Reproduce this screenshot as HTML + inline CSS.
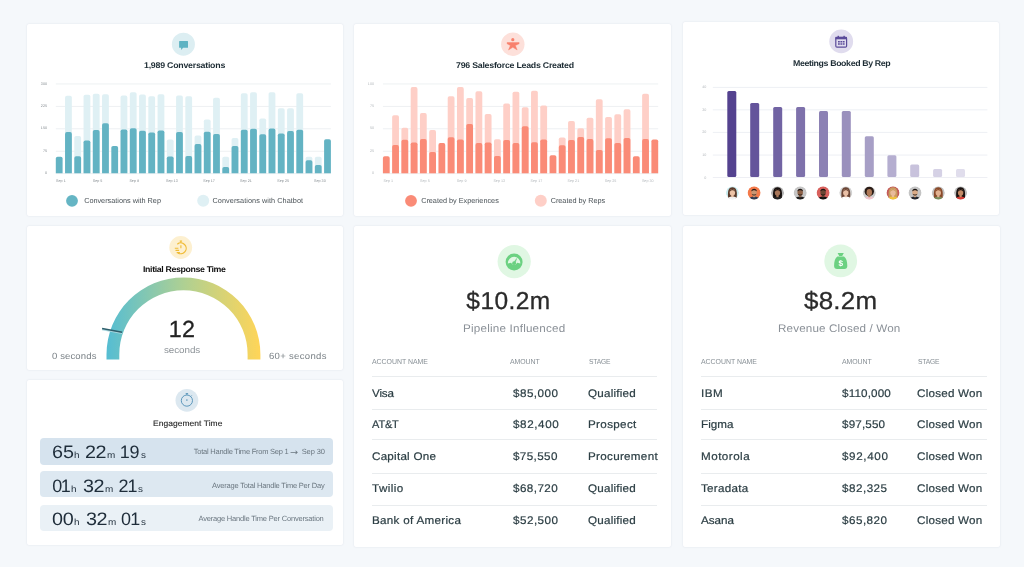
<!DOCTYPE html>
<html lang="en"><head><meta charset="utf-8"><title>Dashboard</title>
<style>
html,body{margin:0;padding:0}
body{width:1024px;height:567px;overflow:hidden;background:#f5f8fb;position:relative;font-family:"Liberation Sans",sans-serif}
.card{position:absolute;background:#fff;border-radius:2px;box-shadow:0 0 2px rgba(40,60,90,0.13)}
.t{position:absolute;white-space:nowrap;line-height:1;transform-origin:0 0;text-rendering:geometricPrecision}
.ov{position:absolute;left:0;top:0;font-family:"Liberation Sans",sans-serif}
.row{position:absolute;border-radius:4px}
.ln{position:absolute;height:1px;background:#e9ecee}
.wrap{position:absolute;left:0;top:0;width:1024px;height:567px;filter:blur(0.4px)}
</style></head><body><div class="wrap">
<div class="card" style="left:26.5px;top:23.6px;width:316.8px;height:192.4px"></div>
<div class="card" style="left:354.4px;top:23.6px;width:316.4px;height:192.4px"></div>
<div class="card" style="left:682.8px;top:21.8px;width:316.6px;height:193.4px"></div>
<div class="card" style="left:26.6px;top:225.7px;width:316.6px;height:144.3px"></div>
<div class="card" style="left:26.6px;top:380.0px;width:316.8px;height:165.0px"></div>
<div class="card" style="left:354.4px;top:225.8px;width:316.4px;height:320.8px"></div>
<div class="card" style="left:683.2px;top:225.8px;width:316.5px;height:320.8px"></div>
<svg class="ov" width="1024" height="567" viewBox="0 0 1024 567" text-rendering="geometricPrecision"><rect x="55.80" y="173.20" width="275.10" height="0.9" fill="#eceff1"/>
<text x="47.00" y="174.30" font-size="3.7" fill="#858c91" text-anchor="end">0</text>
<rect x="55.80" y="150.78" width="275.10" height="0.9" fill="#eceff1"/>
<text x="47.00" y="151.88" font-size="3.7" fill="#858c91" text-anchor="end">75</text>
<rect x="55.80" y="128.35" width="275.10" height="0.9" fill="#eceff1"/>
<text x="47.00" y="129.45" font-size="3.7" fill="#858c91" text-anchor="end">150</text>
<rect x="55.80" y="105.93" width="275.10" height="0.9" fill="#eceff1"/>
<text x="47.00" y="107.03" font-size="3.7" fill="#858c91" text-anchor="end">225</text>
<rect x="55.80" y="83.50" width="275.10" height="0.9" fill="#eceff1"/>
<text x="47.00" y="84.60" font-size="3.7" fill="#858c91" text-anchor="end">300</text>
<path d="M55.80 173.30 V158.50 Q55.80 156.70 57.60 156.70 H60.80 Q62.60 156.70 62.60 158.50 V173.30 Z" fill="#63b3c3"/>
<path d="M65.05 173.30 V97.60 Q65.05 95.80 66.85 95.80 H70.05 Q71.85 95.80 71.85 97.60 V173.30 Z" fill="#dff0f4"/>
<path d="M65.05 173.30 V133.90 Q65.05 132.10 66.85 132.10 H70.05 Q71.85 132.10 71.85 133.90 V173.30 Z" fill="#63b3c3"/>
<path d="M74.30 173.30 V137.70 Q74.30 135.90 76.10 135.90 H79.30 Q81.10 135.90 81.10 137.70 V173.30 Z" fill="#dff0f4"/>
<path d="M74.30 173.30 V158.10 Q74.30 156.30 76.10 156.30 H79.30 Q81.10 156.30 81.10 158.10 V173.30 Z" fill="#63b3c3"/>
<path d="M83.56 173.30 V96.60 Q83.56 94.80 85.36 94.80 H88.56 Q90.36 94.80 90.36 96.60 V173.30 Z" fill="#dff0f4"/>
<path d="M83.56 173.30 V142.20 Q83.56 140.40 85.36 140.40 H88.56 Q90.36 140.40 90.36 142.20 V173.30 Z" fill="#63b3c3"/>
<path d="M92.81 173.30 V95.50 Q92.81 93.70 94.61 93.70 H97.81 Q99.61 93.70 99.61 95.50 V173.30 Z" fill="#dff0f4"/>
<path d="M92.81 173.30 V131.70 Q92.81 129.90 94.61 129.90 H97.81 Q99.61 129.90 99.61 131.70 V173.30 Z" fill="#63b3c3"/>
<path d="M102.06 173.30 V96.10 Q102.06 94.30 103.86 94.30 H107.06 Q108.86 94.30 108.86 96.10 V173.30 Z" fill="#dff0f4"/>
<path d="M102.06 173.30 V125.10 Q102.06 123.30 103.86 123.30 H107.06 Q108.86 123.30 108.86 125.10 V173.30 Z" fill="#63b3c3"/>
<path d="M111.31 173.30 V147.80 Q111.31 146.00 113.11 146.00 H116.31 Q118.11 146.00 118.11 147.80 V173.30 Z" fill="#63b3c3"/>
<path d="M120.56 173.30 V97.40 Q120.56 95.60 122.36 95.60 H125.56 Q127.36 95.60 127.36 97.40 V173.30 Z" fill="#dff0f4"/>
<path d="M120.56 173.30 V131.30 Q120.56 129.50 122.36 129.50 H125.56 Q127.36 129.50 127.36 131.30 V173.30 Z" fill="#63b3c3"/>
<path d="M129.81 173.30 V94.10 Q129.81 92.30 131.61 92.30 H134.81 Q136.61 92.30 136.61 94.10 V173.30 Z" fill="#dff0f4"/>
<path d="M129.81 173.30 V130.00 Q129.81 128.20 131.61 128.20 H134.81 Q136.61 128.20 136.61 130.00 V173.30 Z" fill="#63b3c3"/>
<path d="M139.07 173.30 V96.40 Q139.07 94.60 140.87 94.60 H144.07 Q145.87 94.60 145.87 96.40 V173.30 Z" fill="#dff0f4"/>
<path d="M139.07 173.30 V132.50 Q139.07 130.70 140.87 130.70 H144.07 Q145.87 130.70 145.87 132.50 V173.30 Z" fill="#63b3c3"/>
<path d="M148.32 173.30 V98.00 Q148.32 96.20 150.12 96.20 H153.32 Q155.12 96.20 155.12 98.00 V173.30 Z" fill="#dff0f4"/>
<path d="M148.32 173.30 V134.30 Q148.32 132.50 150.12 132.50 H153.32 Q155.12 132.50 155.12 134.30 V173.30 Z" fill="#63b3c3"/>
<path d="M157.57 173.30 V96.10 Q157.57 94.30 159.37 94.30 H162.57 Q164.37 94.30 164.37 96.10 V173.30 Z" fill="#dff0f4"/>
<path d="M157.57 173.30 V132.30 Q157.57 130.50 159.37 130.50 H162.57 Q164.37 130.50 164.37 132.30 V173.30 Z" fill="#63b3c3"/>
<path d="M166.82 173.30 V141.20 Q166.82 139.40 168.62 139.40 H171.82 Q173.62 139.40 173.62 141.20 V173.30 Z" fill="#dff0f4"/>
<path d="M166.82 173.30 V158.30 Q166.82 156.50 168.62 156.50 H171.82 Q173.62 156.50 173.62 158.30 V173.30 Z" fill="#63b3c3"/>
<path d="M176.07 173.30 V97.40 Q176.07 95.60 177.87 95.60 H181.07 Q182.87 95.60 182.87 97.40 V173.30 Z" fill="#dff0f4"/>
<path d="M176.07 173.30 V133.70 Q176.07 131.90 177.87 131.90 H181.07 Q182.87 131.90 182.87 133.70 V173.30 Z" fill="#63b3c3"/>
<path d="M185.32 173.30 V98.00 Q185.32 96.20 187.12 96.20 H190.32 Q192.12 96.20 192.12 98.00 V173.30 Z" fill="#dff0f4"/>
<path d="M185.32 173.30 V157.90 Q185.32 156.10 187.12 156.10 H190.32 Q192.12 156.10 192.12 157.90 V173.30 Z" fill="#63b3c3"/>
<path d="M194.58 173.30 V137.40 Q194.58 135.60 196.38 135.60 H199.58 Q201.38 135.60 201.38 137.40 V173.30 Z" fill="#dff0f4"/>
<path d="M194.58 173.30 V145.90 Q194.58 144.10 196.38 144.10 H199.58 Q201.38 144.10 201.38 145.90 V173.30 Z" fill="#63b3c3"/>
<path d="M203.83 173.30 V121.30 Q203.83 119.50 205.63 119.50 H208.83 Q210.63 119.50 210.63 121.30 V173.30 Z" fill="#dff0f4"/>
<path d="M203.83 173.30 V133.50 Q203.83 131.70 205.63 131.70 H208.83 Q210.63 131.70 210.63 133.50 V173.30 Z" fill="#63b3c3"/>
<path d="M213.08 173.30 V99.60 Q213.08 97.80 214.88 97.80 H218.08 Q219.88 97.80 219.88 99.60 V173.30 Z" fill="#dff0f4"/>
<path d="M213.08 173.30 V135.80 Q213.08 134.00 214.88 134.00 H218.08 Q219.88 134.00 219.88 135.80 V173.30 Z" fill="#63b3c3"/>
<path d="M222.33 173.30 V158.50 Q222.33 156.70 224.13 156.70 H227.33 Q229.13 156.70 229.13 158.50 V173.30 Z" fill="#dff0f4"/>
<path d="M222.33 173.30 V168.80 Q222.33 167.00 224.13 167.00 H227.33 Q229.13 167.00 229.13 168.80 V173.30 Z" fill="#63b3c3"/>
<path d="M231.58 173.30 V139.70 Q231.58 137.90 233.38 137.90 H236.58 Q238.38 137.90 238.38 139.70 V173.30 Z" fill="#dff0f4"/>
<path d="M231.58 173.30 V147.80 Q231.58 146.00 233.38 146.00 H236.58 Q238.38 146.00 238.38 147.80 V173.30 Z" fill="#63b3c3"/>
<path d="M240.83 173.30 V95.10 Q240.83 93.30 242.63 93.30 H245.83 Q247.63 93.30 247.63 95.10 V173.30 Z" fill="#dff0f4"/>
<path d="M240.83 173.30 V131.60 Q240.83 129.80 242.63 129.80 H245.83 Q247.63 129.80 247.63 131.60 V173.30 Z" fill="#63b3c3"/>
<path d="M250.09 173.30 V94.10 Q250.09 92.30 251.89 92.30 H255.09 Q256.89 92.30 256.89 94.10 V173.30 Z" fill="#dff0f4"/>
<path d="M250.09 173.30 V130.60 Q250.09 128.80 251.89 128.80 H255.09 Q256.89 128.80 256.89 130.60 V173.30 Z" fill="#63b3c3"/>
<path d="M259.34 173.30 V120.30 Q259.34 118.50 261.14 118.50 H264.34 Q266.14 118.50 266.14 120.30 V173.30 Z" fill="#dff0f4"/>
<path d="M259.34 173.30 V136.00 Q259.34 134.20 261.14 134.20 H264.34 Q266.14 134.20 266.14 136.00 V173.30 Z" fill="#63b3c3"/>
<path d="M268.59 173.30 V94.10 Q268.59 92.30 270.39 92.30 H273.59 Q275.39 92.30 275.39 94.10 V173.30 Z" fill="#dff0f4"/>
<path d="M268.59 173.30 V130.40 Q268.59 128.60 270.39 128.60 H273.59 Q275.39 128.60 275.39 130.40 V173.30 Z" fill="#63b3c3"/>
<path d="M277.84 173.30 V110.00 Q277.84 108.20 279.64 108.20 H282.84 Q284.64 108.20 284.64 110.00 V173.30 Z" fill="#dff0f4"/>
<path d="M277.84 173.30 V135.20 Q277.84 133.40 279.64 133.40 H282.84 Q284.64 133.40 284.64 135.20 V173.30 Z" fill="#63b3c3"/>
<path d="M287.09 173.30 V110.00 Q287.09 108.20 288.89 108.20 H292.09 Q293.89 108.20 293.89 110.00 V173.30 Z" fill="#dff0f4"/>
<path d="M287.09 173.30 V132.90 Q287.09 131.10 288.89 131.10 H292.09 Q293.89 131.10 293.89 132.90 V173.30 Z" fill="#63b3c3"/>
<path d="M296.34 173.30 V95.10 Q296.34 93.30 298.14 93.30 H301.34 Q303.14 93.30 303.14 95.10 V173.30 Z" fill="#dff0f4"/>
<path d="M296.34 173.30 V131.60 Q296.34 129.80 298.14 129.80 H301.34 Q303.14 129.80 303.14 131.60 V173.30 Z" fill="#63b3c3"/>
<path d="M305.60 173.30 V158.50 Q305.60 156.70 307.40 156.70 H310.60 Q312.40 156.70 312.40 158.50 V173.30 Z" fill="#dff0f4"/>
<path d="M305.60 173.30 V162.00 Q305.60 160.20 307.40 160.20 H310.60 Q312.40 160.20 312.40 162.00 V173.30 Z" fill="#63b3c3"/>
<path d="M314.85 173.30 V158.50 Q314.85 156.70 316.65 156.70 H319.85 Q321.65 156.70 321.65 158.50 V173.30 Z" fill="#dff0f4"/>
<path d="M314.85 173.30 V166.80 Q314.85 165.00 316.65 165.00 H319.85 Q321.65 165.00 321.65 166.80 V173.30 Z" fill="#63b3c3"/>
<path d="M324.10 173.30 V141.10 Q324.10 139.30 325.90 139.30 H329.10 Q330.90 139.30 330.90 141.10 V173.30 Z" fill="#63b3c3"/>
<text x="56.10" y="181.90" font-size="3.7" fill="#858c91" text-anchor="start">Sep 1</text>
<text x="92.70" y="181.90" font-size="3.7" fill="#858c91" text-anchor="start">Sep 5</text>
<text x="129.40" y="181.90" font-size="3.7" fill="#858c91" text-anchor="start">Sep 9</text>
<text x="166.00" y="181.90" font-size="3.7" fill="#858c91" text-anchor="start">Sep 13</text>
<text x="203.20" y="181.90" font-size="3.7" fill="#858c91" text-anchor="start">Sep 17</text>
<text x="240.10" y="181.90" font-size="3.7" fill="#858c91" text-anchor="start">Sep 21</text>
<text x="277.30" y="181.90" font-size="3.7" fill="#858c91" text-anchor="start">Sep 25</text>
<text x="314.00" y="181.90" font-size="3.7" fill="#858c91" text-anchor="start">Sep 30</text>
<rect x="382.90" y="173.20" width="275.30" height="0.9" fill="#eceff1"/>
<text x="374.00" y="174.30" font-size="3.7" fill="#b3b8bc" text-anchor="end">0</text>
<rect x="382.90" y="150.78" width="275.30" height="0.9" fill="#eceff1"/>
<text x="374.00" y="151.88" font-size="3.7" fill="#b3b8bc" text-anchor="end">25</text>
<rect x="382.90" y="128.35" width="275.30" height="0.9" fill="#eceff1"/>
<text x="374.00" y="129.45" font-size="3.7" fill="#b3b8bc" text-anchor="end">50</text>
<rect x="382.90" y="105.93" width="275.30" height="0.9" fill="#eceff1"/>
<text x="374.00" y="107.03" font-size="3.7" fill="#b3b8bc" text-anchor="end">75</text>
<rect x="382.90" y="83.50" width="275.30" height="0.9" fill="#eceff1"/>
<text x="374.00" y="84.60" font-size="3.7" fill="#b3b8bc" text-anchor="end">100</text>
<path d="M382.90 173.30 V158.10 Q382.90 156.30 384.70 156.30 H387.90 Q389.70 156.30 389.70 158.10 V173.30 Z" fill="#fa8b77"/>
<path d="M392.16 173.30 V117.00 Q392.16 115.20 393.96 115.20 H397.16 Q398.96 115.20 398.96 117.00 V173.30 Z" fill="#fecfc7"/>
<path d="M392.16 173.30 V146.90 Q392.16 145.10 393.96 145.10 H397.16 Q398.96 145.10 398.96 146.90 V173.30 Z" fill="#fa8b77"/>
<path d="M401.42 173.30 V129.60 Q401.42 127.80 403.22 127.80 H406.42 Q408.22 127.80 408.22 129.60 V173.30 Z" fill="#fecfc7"/>
<path d="M401.42 173.30 V141.60 Q401.42 139.80 403.22 139.80 H406.42 Q408.22 139.80 408.22 141.60 V173.30 Z" fill="#fa8b77"/>
<path d="M410.68 173.30 V88.90 Q410.68 87.10 412.48 87.10 H415.68 Q417.48 87.10 417.48 88.90 V173.30 Z" fill="#fecfc7"/>
<path d="M410.68 173.30 V144.20 Q410.68 142.40 412.48 142.40 H415.68 Q417.48 142.40 417.48 144.20 V173.30 Z" fill="#fa8b77"/>
<path d="M419.93 173.30 V114.90 Q419.93 113.10 421.73 113.10 H424.93 Q426.73 113.10 426.73 114.90 V173.30 Z" fill="#fecfc7"/>
<path d="M419.93 173.30 V140.90 Q419.93 139.10 421.73 139.10 H424.93 Q426.73 139.10 426.73 140.90 V173.30 Z" fill="#fa8b77"/>
<path d="M429.19 173.30 V131.90 Q429.19 130.10 430.99 130.10 H434.19 Q435.99 130.10 435.99 131.90 V173.30 Z" fill="#fecfc7"/>
<path d="M429.19 173.30 V153.80 Q429.19 152.00 430.99 152.00 H434.19 Q435.99 152.00 435.99 153.80 V173.30 Z" fill="#fa8b77"/>
<path d="M438.45 173.30 V144.90 Q438.45 143.10 440.25 143.10 H443.45 Q445.25 143.10 445.25 144.90 V173.30 Z" fill="#fa8b77"/>
<path d="M447.71 173.30 V98.00 Q447.71 96.20 449.51 96.20 H452.71 Q454.51 96.20 454.51 98.00 V173.30 Z" fill="#fecfc7"/>
<path d="M447.71 173.30 V139.10 Q447.71 137.30 449.51 137.30 H452.71 Q454.51 137.30 454.51 139.10 V173.30 Z" fill="#fa8b77"/>
<path d="M456.97 173.30 V88.90 Q456.97 87.10 458.77 87.10 H461.97 Q463.77 87.10 463.77 88.90 V173.30 Z" fill="#fecfc7"/>
<path d="M456.97 173.30 V141.20 Q456.97 139.40 458.77 139.40 H461.97 Q463.77 139.40 463.77 141.20 V173.30 Z" fill="#fa8b77"/>
<path d="M466.23 173.30 V99.90 Q466.23 98.10 468.03 98.10 H471.23 Q473.03 98.10 473.03 99.90 V173.30 Z" fill="#fecfc7"/>
<path d="M466.23 173.30 V125.70 Q466.23 123.90 468.03 123.90 H471.23 Q473.03 123.90 473.03 125.70 V173.30 Z" fill="#fa8b77"/>
<path d="M475.49 173.30 V93.10 Q475.49 91.30 477.29 91.30 H480.49 Q482.29 91.30 482.29 93.10 V173.30 Z" fill="#fecfc7"/>
<path d="M475.49 173.30 V144.90 Q475.49 143.10 477.29 143.10 H480.49 Q482.29 143.10 482.29 144.90 V173.30 Z" fill="#fa8b77"/>
<path d="M484.74 173.30 V115.80 Q484.74 114.00 486.54 114.00 H489.74 Q491.54 114.00 491.54 115.80 V173.30 Z" fill="#fecfc7"/>
<path d="M484.74 173.30 V144.30 Q484.74 142.50 486.54 142.50 H489.74 Q491.54 142.50 491.54 144.30 V173.30 Z" fill="#fa8b77"/>
<path d="M494.00 173.30 V141.00 Q494.00 139.20 495.80 139.20 H499.00 Q500.80 139.20 500.80 141.00 V173.30 Z" fill="#fecfc7"/>
<path d="M494.00 173.30 V157.70 Q494.00 155.90 495.80 155.90 H499.00 Q500.80 155.90 500.80 157.70 V173.30 Z" fill="#fa8b77"/>
<path d="M503.26 173.30 V105.40 Q503.26 103.60 505.06 103.60 H508.26 Q510.06 103.60 510.06 105.40 V173.30 Z" fill="#fecfc7"/>
<path d="M503.26 173.30 V141.80 Q503.26 140.00 505.06 140.00 H508.26 Q510.06 140.00 510.06 141.80 V173.30 Z" fill="#fa8b77"/>
<path d="M512.52 173.30 V93.50 Q512.52 91.70 514.32 91.70 H517.52 Q519.32 91.70 519.32 93.50 V173.30 Z" fill="#fecfc7"/>
<path d="M512.52 173.30 V144.70 Q512.52 142.90 514.32 142.90 H517.52 Q519.32 142.90 519.32 144.70 V173.30 Z" fill="#fa8b77"/>
<path d="M521.78 173.30 V109.00 Q521.78 107.20 523.58 107.20 H526.78 Q528.58 107.20 528.58 109.00 V173.30 Z" fill="#fecfc7"/>
<path d="M521.78 173.30 V128.10 Q521.78 126.30 523.58 126.30 H526.78 Q528.58 126.30 528.58 128.10 V173.30 Z" fill="#fa8b77"/>
<path d="M531.04 173.30 V92.60 Q531.04 90.80 532.84 90.80 H536.04 Q537.84 90.80 537.84 92.60 V173.30 Z" fill="#fecfc7"/>
<path d="M531.04 173.30 V144.00 Q531.04 142.20 532.84 142.20 H536.04 Q537.84 142.20 537.84 144.00 V173.30 Z" fill="#fa8b77"/>
<path d="M540.30 173.30 V107.30 Q540.30 105.50 542.10 105.50 H545.30 Q547.10 105.50 547.10 107.30 V173.30 Z" fill="#fecfc7"/>
<path d="M540.30 173.30 V141.20 Q540.30 139.40 542.10 139.40 H545.30 Q547.10 139.40 547.10 141.20 V173.30 Z" fill="#fa8b77"/>
<path d="M549.56 173.30 V157.10 Q549.56 155.30 551.36 155.30 H554.56 Q556.36 155.30 556.36 157.10 V173.30 Z" fill="#fa8b77"/>
<path d="M558.81 173.30 V139.30 Q558.81 137.50 560.61 137.50 H563.81 Q565.61 137.50 565.61 139.30 V173.30 Z" fill="#fecfc7"/>
<path d="M558.81 173.30 V147.10 Q558.81 145.30 560.61 145.30 H563.81 Q565.61 145.30 565.61 147.10 V173.30 Z" fill="#fa8b77"/>
<path d="M568.07 173.30 V122.80 Q568.07 121.00 569.87 121.00 H573.07 Q574.87 121.00 574.87 122.80 V173.30 Z" fill="#fecfc7"/>
<path d="M568.07 173.30 V141.80 Q568.07 140.00 569.87 140.00 H573.07 Q574.87 140.00 574.87 141.80 V173.30 Z" fill="#fa8b77"/>
<path d="M577.33 173.30 V130.00 Q577.33 128.20 579.13 128.20 H582.33 Q584.13 128.20 584.13 130.00 V173.30 Z" fill="#fecfc7"/>
<path d="M577.33 173.30 V138.70 Q577.33 136.90 579.13 136.90 H582.33 Q584.13 136.90 584.13 138.70 V173.30 Z" fill="#fa8b77"/>
<path d="M586.59 173.30 V119.50 Q586.59 117.70 588.39 117.70 H591.59 Q593.39 117.70 593.39 119.50 V173.30 Z" fill="#fecfc7"/>
<path d="M586.59 173.30 V140.90 Q586.59 139.10 588.39 139.10 H591.59 Q593.39 139.10 593.39 140.90 V173.30 Z" fill="#fa8b77"/>
<path d="M595.85 173.30 V101.10 Q595.85 99.30 597.65 99.30 H600.85 Q602.65 99.30 602.65 101.10 V173.30 Z" fill="#fecfc7"/>
<path d="M595.85 173.30 V151.70 Q595.85 149.90 597.65 149.90 H600.85 Q602.65 149.90 602.65 151.70 V173.30 Z" fill="#fa8b77"/>
<path d="M605.11 173.30 V118.70 Q605.11 116.90 606.91 116.90 H610.11 Q611.91 116.90 611.91 118.70 V173.30 Z" fill="#fecfc7"/>
<path d="M605.11 173.30 V140.10 Q605.11 138.30 606.91 138.30 H610.11 Q611.91 138.30 611.91 140.10 V173.30 Z" fill="#fa8b77"/>
<path d="M614.37 173.30 V116.00 Q614.37 114.20 616.17 114.20 H619.37 Q621.17 114.20 621.17 116.00 V173.30 Z" fill="#fecfc7"/>
<path d="M614.37 173.30 V144.70 Q614.37 142.90 616.17 142.90 H619.37 Q621.17 142.90 621.17 144.70 V173.30 Z" fill="#fa8b77"/>
<path d="M623.62 173.30 V111.00 Q623.62 109.20 625.42 109.20 H628.62 Q630.42 109.20 630.42 111.00 V173.30 Z" fill="#fecfc7"/>
<path d="M623.62 173.30 V139.70 Q623.62 137.90 625.42 137.90 H628.62 Q630.42 137.90 630.42 139.70 V173.30 Z" fill="#fa8b77"/>
<path d="M632.88 173.30 V158.10 Q632.88 156.30 634.68 156.30 H637.88 Q639.68 156.30 639.68 158.10 V173.30 Z" fill="#fa8b77"/>
<path d="M642.14 173.30 V95.50 Q642.14 93.70 643.94 93.70 H647.14 Q648.94 93.70 648.94 95.50 V173.30 Z" fill="#fecfc7"/>
<path d="M642.14 173.30 V140.90 Q642.14 139.10 643.94 139.10 H647.14 Q648.94 139.10 648.94 140.90 V173.30 Z" fill="#fa8b77"/>
<path d="M651.40 173.30 V141.20 Q651.40 139.40 653.20 139.40 H656.40 Q658.20 139.40 658.20 141.20 V173.30 Z" fill="#fa8b77"/>
<text x="383.40" y="181.90" font-size="3.7" fill="#b3b8bc" text-anchor="start">Sep 1</text>
<text x="420.10" y="181.90" font-size="3.7" fill="#b3b8bc" text-anchor="start">Sep 5</text>
<text x="456.80" y="181.90" font-size="3.7" fill="#b3b8bc" text-anchor="start">Sep 9</text>
<text x="493.40" y="181.90" font-size="3.7" fill="#b3b8bc" text-anchor="start">Sep 13</text>
<text x="530.60" y="181.90" font-size="3.7" fill="#b3b8bc" text-anchor="start">Sep 17</text>
<text x="567.50" y="181.90" font-size="3.7" fill="#b3b8bc" text-anchor="start">Sep 21</text>
<text x="604.70" y="181.90" font-size="3.7" fill="#b3b8bc" text-anchor="start">Sep 25</text>
<text x="641.90" y="181.90" font-size="3.7" fill="#b3b8bc" text-anchor="start">Sep 30</text>
<rect x="712.8" y="177.00" width="274.6" height="0.9" fill="#eceef3"/>
<text x="706.30" y="178.50" font-size="3.7" fill="#b3b8bc" text-anchor="end">0</text>
<rect x="712.8" y="154.60" width="274.6" height="0.9" fill="#eceef3"/>
<text x="706.30" y="156.10" font-size="3.7" fill="#b3b8bc" text-anchor="end">10</text>
<rect x="712.8" y="131.90" width="274.6" height="0.9" fill="#eceef3"/>
<text x="706.30" y="133.40" font-size="3.7" fill="#b3b8bc" text-anchor="end">20</text>
<rect x="712.8" y="109.40" width="274.6" height="0.9" fill="#eceef3"/>
<text x="706.30" y="110.90" font-size="3.7" fill="#b3b8bc" text-anchor="end">30</text>
<rect x="712.8" y="86.90" width="274.6" height="0.9" fill="#eceef3"/>
<text x="706.30" y="88.40" font-size="3.7" fill="#b3b8bc" text-anchor="end">40</text>
<rect x="727.30" y="91.00" width="9.0" height="86.00" rx="1.5" fill="#54428f"/>
<rect x="750.20" y="102.90" width="9.0" height="74.10" rx="1.5" fill="#64549b"/>
<rect x="773.20" y="107.00" width="9.0" height="70.00" rx="1.5" fill="#7163a3"/>
<rect x="796.10" y="107.00" width="9.0" height="70.00" rx="1.5" fill="#7e71ab"/>
<rect x="819.00" y="110.90" width="9.0" height="66.10" rx="1.5" fill="#8c81b4"/>
<rect x="841.80" y="110.90" width="9.0" height="66.10" rx="1.5" fill="#9a90bd"/>
<rect x="864.80" y="136.20" width="9.0" height="40.80" rx="1.5" fill="#a79fc6"/>
<rect x="887.40" y="155.20" width="9.0" height="21.80" rx="1.5" fill="#b5aed0"/>
<rect x="910.20" y="164.40" width="9.0" height="12.60" rx="1.5" fill="#c8c2dc"/>
<rect x="933.10" y="168.90" width="9.0" height="8.10" rx="1.5" fill="#d5d1e5"/>
<rect x="956.00" y="168.90" width="9.0" height="8.10" rx="1.5" fill="#e0ddec"/>
<defs><clipPath id="avc"><circle cx="0" cy="0" r="6.6"/></clipPath></defs>
<g transform="translate(732.40,192.8)" clip-path="url(#avc)"><circle r="6.6" fill="#c9ecf0"/><path d="M-4.2 5.5 C-5.0 -1 -4.2 -5.6 0 -5.6 C4.2 -5.6 5.0 -1 4.2 5.5 Z" fill="#5a3a2a"/><ellipse cx="0" cy="7.0" rx="5.6" ry="3.2" fill="#f3f3f3"/><rect x="-1.1" y="1.6" width="2.2" height="2.8" fill="#ecc3a6"/><ellipse cx="0" cy="-0.4" rx="2.7" ry="3.3" fill="#ecc3a6"/><path d="M-2.8 -0.8 C-2.8 -4.8 2.8 -4.8 2.8 -0.8 C1.4 -3.0 -1.0 -3.4 -2.8 -0.8 Z" fill="#5a3a2a"/></g>
<g transform="translate(754.10,192.8)" clip-path="url(#avc)"><circle r="6.6" fill="#f47a4a"/><ellipse cx="0" cy="7.0" rx="5.6" ry="3.2" fill="#2d3d55"/><rect x="-1.1" y="1.6" width="2.2" height="2.8" fill="#c99673"/><ellipse cx="0" cy="-0.4" rx="2.7" ry="3.3" fill="#c99673"/><path d="M-2.8 -1.0 C-3.0 -5.0 3.0 -5.0 2.8 -1.0 C2.0 -3.0 -2.0 -3.0 -2.8 -1.0 Z" fill="#2a1a14"/><path d="M-2.4 0.9 C-1.8 3.4 1.8 3.4 2.4 0.9 C1.2 2.0 -1.2 2.0 -2.4 0.9 Z" fill="#2a1a14" opacity="0.75"/></g>
<g transform="translate(777.50,192.8)" clip-path="url(#avc)"><circle r="6.6" fill="#b4b4b4"/><path d="M-4.2 5.5 C-5.0 -1 -4.2 -5.6 0 -5.6 C4.2 -5.6 5.0 -1 4.2 5.5 Z" fill="#17110f"/><ellipse cx="0" cy="7.0" rx="5.6" ry="3.2" fill="#222222"/><rect x="-1.1" y="1.6" width="2.2" height="2.8" fill="#a87659"/><ellipse cx="0" cy="-0.4" rx="2.7" ry="3.3" fill="#a87659"/><path d="M-2.8 -0.8 C-2.8 -4.8 2.8 -4.8 2.8 -0.8 C1.4 -3.0 -1.0 -3.4 -2.8 -0.8 Z" fill="#17110f"/></g>
<g transform="translate(800.20,192.8)" clip-path="url(#avc)"><circle r="6.6" fill="#c6c6c6"/><ellipse cx="0" cy="7.0" rx="5.6" ry="3.2" fill="#1d1d1d"/><rect x="-1.1" y="1.6" width="2.2" height="2.8" fill="#8e6248"/><ellipse cx="0" cy="-0.4" rx="2.7" ry="3.3" fill="#8e6248"/><path d="M-2.8 -1.0 C-3.0 -5.0 3.0 -5.0 2.8 -1.0 C2.0 -3.0 -2.0 -3.0 -2.8 -1.0 Z" fill="#1b1513"/><path d="M-2.4 0.9 C-1.8 3.4 1.8 3.4 2.4 0.9 C1.2 2.0 -1.2 2.0 -2.4 0.9 Z" fill="#1b1513" opacity="0.75"/></g>
<g transform="translate(823.10,192.8)" clip-path="url(#avc)"><circle r="6.6" fill="#d8605c"/><ellipse cx="0" cy="7.0" rx="5.6" ry="3.2" fill="#111111"/><rect x="-1.1" y="1.6" width="2.2" height="2.8" fill="#6b4533"/><ellipse cx="0" cy="-0.4" rx="2.7" ry="3.3" fill="#6b4533"/><path d="M-2.8 -1.0 C-3.0 -5.0 3.0 -5.0 2.8 -1.0 C2.0 -3.0 -2.0 -3.0 -2.8 -1.0 Z" fill="#1a1210"/><path d="M-2.4 0.9 C-1.8 3.4 1.8 3.4 2.4 0.9 C1.2 2.0 -1.2 2.0 -2.4 0.9 Z" fill="#1a1210" opacity="0.75"/></g>
<g transform="translate(845.80,192.8)" clip-path="url(#avc)"><circle r="6.6" fill="#d2d2d2"/><path d="M-4.2 5.5 C-5.0 -1 -4.2 -5.6 0 -5.6 C4.2 -5.6 5.0 -1 4.2 5.5 Z" fill="#6b4535"/><ellipse cx="0" cy="7.0" rx="5.6" ry="3.2" fill="#ffffff"/><rect x="-1.1" y="1.6" width="2.2" height="2.8" fill="#e9bfa5"/><ellipse cx="0" cy="-0.4" rx="2.7" ry="3.3" fill="#e9bfa5"/><path d="M-2.8 -0.8 C-2.8 -4.8 2.8 -4.8 2.8 -0.8 C1.4 -3.0 -1.0 -3.4 -2.8 -0.8 Z" fill="#6b4535"/></g>
<g transform="translate(869.30,192.8)" clip-path="url(#avc)"><circle r="6.6" fill="#cdcdcd"/><circle cx="0" cy="-1.4" r="4.7" fill="#2a1c16"/><ellipse cx="0" cy="7.0" rx="5.6" ry="3.2" fill="#f1c6cf"/><rect x="-1.1" y="1.6" width="2.2" height="2.8" fill="#b07a58"/><ellipse cx="0" cy="-0.4" rx="2.7" ry="3.3" fill="#b07a58"/></g>
<g transform="translate(893.00,192.8)" clip-path="url(#avc)"><circle r="6.6" fill="#c45a5a"/><path d="M-4.2 5.5 C-5.0 -1 -4.2 -5.6 0 -5.6 C4.2 -5.6 5.0 -1 4.2 5.5 Z" fill="#c99a5e"/><ellipse cx="0" cy="7.0" rx="5.6" ry="3.2" fill="#f0c43a"/><rect x="-1.1" y="1.6" width="2.2" height="2.8" fill="#e9bb9b"/><ellipse cx="0" cy="-0.4" rx="2.7" ry="3.3" fill="#e9bb9b"/><path d="M-2.8 -0.8 C-2.8 -4.8 2.8 -4.8 2.8 -0.8 C1.4 -3.0 -1.0 -3.4 -2.8 -0.8 Z" fill="#c99a5e"/></g>
<g transform="translate(915.00,192.8)" clip-path="url(#avc)"><circle r="6.6" fill="#c4c4c4"/><ellipse cx="0" cy="7.0" rx="5.6" ry="3.2" fill="#20242c"/><rect x="-1.1" y="1.6" width="2.2" height="2.8" fill="#d9aa86"/><ellipse cx="0" cy="-0.4" rx="2.7" ry="3.3" fill="#d9aa86"/><path d="M-2.8 -1.0 C-3.0 -5.0 3.0 -5.0 2.8 -1.0 C2.0 -3.0 -2.0 -3.0 -2.8 -1.0 Z" fill="#15110f"/><path d="M-2.4 0.9 C-1.8 3.4 1.8 3.4 2.4 0.9 C1.2 2.0 -1.2 2.0 -2.4 0.9 Z" fill="#15110f" opacity="0.75"/></g>
<g transform="translate(938.30,192.8)" clip-path="url(#avc)"><circle r="6.6" fill="#c2c2c2"/><path d="M-4.2 5.5 C-5.0 -1 -4.2 -5.6 0 -5.6 C4.2 -5.6 5.0 -1 4.2 5.5 Z" fill="#8a4a2a"/><ellipse cx="0" cy="7.0" rx="5.6" ry="3.2" fill="#7a8a5a"/><rect x="-1.1" y="1.6" width="2.2" height="2.8" fill="#e2b291"/><ellipse cx="0" cy="-0.4" rx="2.7" ry="3.3" fill="#e2b291"/><path d="M-2.8 -0.8 C-2.8 -4.8 2.8 -4.8 2.8 -0.8 C1.4 -3.0 -1.0 -3.4 -2.8 -0.8 Z" fill="#8a4a2a"/></g>
<g transform="translate(960.60,192.8)" clip-path="url(#avc)"><circle r="6.6" fill="#bdbdbd"/><path d="M-4.2 5.5 C-5.0 -1 -4.2 -5.6 0 -5.6 C4.2 -5.6 5.0 -1 4.2 5.5 Z" fill="#1a1210"/><ellipse cx="0" cy="7.0" rx="5.6" ry="3.2" fill="#d63a34"/><rect x="-1.1" y="1.6" width="2.2" height="2.8" fill="#c48a66"/><ellipse cx="0" cy="-0.4" rx="2.7" ry="3.3" fill="#c48a66"/><path d="M-2.8 -0.8 C-2.8 -4.8 2.8 -4.8 2.8 -0.8 C1.4 -3.0 -1.0 -3.4 -2.8 -0.8 Z" fill="#1a1210"/></g>
<defs><linearGradient id="gg" x1="106.5" y1="0" x2="260.4" y2="0" gradientUnits="userSpaceOnUse">
<stop offset="0" stop-color="#55bdd3"/><stop offset="0.5" stop-color="#aed093"/><stop offset="1" stop-color="#ffd558"/></linearGradient></defs>
<path d="M106.50 359.6 L106.50 354.4 A76.95 76.95 0 0 1 260.40 354.4 L260.40 359.6 L247.60 359.6 L247.60 354.4 A64.15 64.15 0 0 0 119.30 354.4 L119.30 359.6 Z" fill="url(#gg)"/>
<line x1="102.1" y1="329.5" x2="122.1" y2="333.3" stroke="#a9d6de" stroke-width="1.3"/>
<line x1="102.1" y1="328.5" x2="122.1" y2="332.3" stroke="#2f5f6c" stroke-width="1.4"/>
<circle cx="183.4" cy="44.2" r="11.5" fill="#dceef2"/>
<path d="M179.6 41.1 h7.9 a0.5 0.5 0 0 1 0.5 0.5 v5.7 a0.5 0.5 0 0 1 -0.5 0.5 h-4.4 l-2.0 2.2 v-2.2 h-1.5 a0.5 0.5 0 0 1 -0.5 -0.5 v-5.7 a0.5 0.5 0 0 1 0.5 -0.5 z" fill="#5eb3c3"/>
<circle cx="512.8" cy="44.2" r="11.7" fill="#fde0da"/>
<circle cx="512.8" cy="39.7" r="1.6" fill="#f8806c"/>
<path d="M507.1 42.5 L519.1 42.5 L519.1 43.8 L515.4 45.6 L517.2 50.0 L512.8 47.3 L508.5 50.0 L510.3 45.6 L507.1 43.8 Z" fill="#f8806c" stroke="#f8806c" stroke-width="0.4" stroke-linejoin="round"/>
<circle cx="841.2" cy="41.4" r="11.9" fill="#e0dcee"/>
<rect x="835.8" y="37.3" width="10.8" height="9.8" rx="1.2" fill="none" stroke="#5b4b9a" stroke-width="1.2"/>
<rect x="835.4" y="36.9" width="11.6" height="2.4" fill="#5b4b9a"/>
<rect x="837.6" y="35.8" width="1.4" height="2" fill="#5b4b9a"/><rect x="843.4" y="35.8" width="1.4" height="2" fill="#5b4b9a"/>
<path d="M838.0 41.8 h6.6 M838.0 44.0 h6.6" stroke="#5b4b9a" stroke-width="1.4" stroke-dasharray="1.8 0.6"/>
<circle cx="180.7" cy="247.5" r="11.4" fill="#fdf0d0"/>
<path d="M177.3 244.2 A5.4 5.4 0 1 1 177.9 252.9" fill="none" stroke="#f0bb35" stroke-width="1.2"/>
<path d="M180.9 240.9 v1.9 M179.7 241.0 h2.4 M180.9 245.3 v3.0 M174.8 248.2 h3.6 M175.5 250.4 h3.6 M176.7 252.6 h3.2" fill="none" stroke="#f0bb35" stroke-width="1.1"/>
<circle cx="186.9" cy="400.3" r="11.4" fill="#dce8f0"/>
<circle cx="186.9" cy="400.6" r="5.6" fill="none" stroke="#4f8fb5" stroke-width="0.9"/>
<path d="M186.9 394.9 v-1.2 M185.7 393.6 h2.4 M190.8 396.4 l0.9 -0.9 M186.9 399.2 v1.8" fill="none" stroke="#4f8fb5" stroke-width="0.9"/>
<circle cx="514.2" cy="261.6" r="16.6" fill="#e0f7e3"/>
<circle cx="514.1" cy="262.0" r="8.5" fill="#6bd181"/>
<path d="M507.8 263.4 A6.3 6.6 0 0 1 520.4 263.4 L517.2 262.7 Q514.1 267.2 511.0 262.7 Z" fill="#e0f7e3"/>
<circle cx="514.1" cy="263.2" r="1.9" fill="#6bd181"/>
<path d="M513.4 263.0 L516.5 258.4 L516.8 258.6 L515.0 263.8 Z" fill="#6bd181" stroke="#6bd181" stroke-width="0.3" stroke-linejoin="round"/>
<circle cx="840.7" cy="260.9" r="16.4" fill="#e0f7e3"/>
<path d="M837.6 252.9 h6.2 l-1.6 3 h-3 z" fill="#6bd181"/>
<path d="M837.4 256.4 h6.6 c2.3 1.5 3.3 4.6 3.3 9.6 a3 3 0 0 1 -3 3 h-7.2 a3 3 0 0 1 -3 -3 c0 -5 1.0 -8.1 3.3 -9.6 z" fill="#6bd181"/>
<text x="840.70" y="266.20" font-size="8.2" fill="#ffffff" text-anchor="middle" font-weight="bold">$</text>
<circle cx="72.0" cy="200.8" r="5.9" fill="#65b5c4"/><circle cx="203.2" cy="200.8" r="6.0" fill="#dff0f4"/>
<circle cx="411.0" cy="200.8" r="5.9" fill="#fa8b77"/><circle cx="540.8" cy="200.8" r="6.0" fill="#fecfc7"/></svg>
<div class="row" style="left:40.1px;top:438.3px;width:292.5px;height:26.3px;background:#d6e3ee"></div>
<div class="row" style="left:40.1px;top:471.3px;width:292.5px;height:26.2px;background:#dde8f1"></div>
<div class="row" style="left:40.1px;top:504.6px;width:292.5px;height:26.3px;background:#eaf1f6"></div>
<div class="t" style="top:61px;left:144.47px;font-size:8.3px;color:#1c2b33;letter-spacing:-0.224px;font-weight:bold;transform:scaleX(1.06);">1,989 Conversations</div>
<div class="t" style="top:61px;left:455.75px;font-size:8.3px;color:#1c2b33;letter-spacing:-0.230px;font-weight:bold;transform:scaleX(1.06);">796 Salesforce Leads Created</div>
<div class="t" style="top:59px;left:792.53px;font-size:8.3px;color:#1c2b33;letter-spacing:-0.357px;font-weight:bold;transform:scaleX(1.06);">Meetings Booked By Rep</div>
<div class="t" style="top:265px;left:142.93px;font-size:8.3px;color:#111111;letter-spacing:-0.344px;font-weight:bold;transform:scaleX(1.06);">Initial Response Time</div>
<div class="t" style="top:420px;left:152.92px;font-size:8.0px;color:#1f1f1f;letter-spacing:0.037px;transform:scaleX(1.06);-webkit-text-stroke:0.12px #1f1f1f;">Engagement Time</div>
<div class="t" style="top:197px;left:84.14px;font-size:7.3px;color:#4a5257;letter-spacing:-0.011px;">Conversations with Rep</div>
<div class="t" style="top:197px;left:212.53px;font-size:7.3px;color:#4a5257;letter-spacing:0.054px;">Conversations with Chatbot</div>
<div class="t" style="top:197px;left:421.13px;font-size:7.3px;color:#4a5257;letter-spacing:-0.010px;">Created by Experiences</div>
<div class="t" style="top:197px;left:550.63px;font-size:7.3px;color:#4a5257;letter-spacing:-0.012px;">Created by Reps</div>
<div class="t" style="top:318px;left:168.75px;font-size:23.3px;color:#222222;letter-spacing:0.299px;-webkit-text-stroke:0.3px #222;">12</div>
<div class="t" style="top:346px;left:163.60px;font-size:9.3px;color:#8d9398;letter-spacing:-0.076px;transform:scaleX(1.06);">seconds</div>
<div class="t" style="top:352px;left:51.82px;font-size:9.0px;color:#7a8186;letter-spacing:0.108px;transform:scaleX(1.06);">0 seconds</div>
<div class="t" style="top:352px;left:269.02px;font-size:9.0px;color:#7a8186;letter-spacing:0.286px;transform:scaleX(1.06);">60+ seconds</div>
<div class="t" style="top:443px;left:51.91px;font-size:18.0px;color:#1f2d3a;letter-spacing:0.004px;transform:scaleX(1.1);">65</div>
<div class="t" style="top:451px;left:74.31px;font-size:9.0px;color:#1f2d3a;letter-spacing:0.000px;transform:scaleX(1.1);">h</div>
<div class="t" style="top:443px;left:85.31px;font-size:18.0px;color:#1f2d3a;letter-spacing:-0.544px;transform:scaleX(1.1);">22</div>
<div class="t" style="top:451px;left:107.36px;font-size:9.0px;color:#1f2d3a;letter-spacing:0.000px;transform:scaleX(1.1);">m</div>
<div class="t" style="top:443px;left:119.85px;font-size:18.0px;color:#1f2d3a;letter-spacing:-0.320px;">19</div>
<div class="t" style="top:451px;left:140.70px;font-size:9.0px;color:#1f2d3a;letter-spacing:0.000px;transform:scaleX(1.1);">s</div>
<div class="t" style="top:477px;left:52.18px;font-size:18.0px;color:#1f2d3a;letter-spacing:-1.550px;">01</div>
<div class="t" style="top:485px;left:71.41px;font-size:9.0px;color:#1f2d3a;letter-spacing:0.000px;transform:scaleX(1.1);">h</div>
<div class="t" style="top:477px;left:83.11px;font-size:18.0px;color:#1f2d3a;letter-spacing:-0.360px;transform:scaleX(1.1);">32</div>
<div class="t" style="top:485px;left:105.46px;font-size:9.0px;color:#1f2d3a;letter-spacing:0.000px;transform:scaleX(1.1);">m</div>
<div class="t" style="top:477px;left:118.40px;font-size:18.0px;color:#1f2d3a;letter-spacing:-0.870px;">21</div>
<div class="t" style="top:485px;left:138.40px;font-size:9.0px;color:#1f2d3a;letter-spacing:0.000px;transform:scaleX(1.1);">s</div>
<div class="t" style="top:510px;left:52.11px;font-size:18.0px;color:#1f2d3a;letter-spacing:-0.266px;transform:scaleX(1.1);">00</div>
<div class="t" style="top:518px;left:74.31px;font-size:9.0px;color:#1f2d3a;letter-spacing:0.000px;transform:scaleX(1.1);">h</div>
<div class="t" style="top:510px;left:85.91px;font-size:18.0px;color:#1f2d3a;letter-spacing:-0.542px;transform:scaleX(1.1);">32</div>
<div class="t" style="top:518px;left:107.96px;font-size:9.0px;color:#1f2d3a;letter-spacing:0.000px;transform:scaleX(1.1);">m</div>
<div class="t" style="top:510px;left:121.08px;font-size:18.0px;color:#1f2d3a;letter-spacing:-0.950px;">01</div>
<div class="t" style="top:518px;left:141.30px;font-size:9.0px;color:#1f2d3a;letter-spacing:0.000px;transform:scaleX(1.1);">s</div>
<div class="t" style="top:448px;left:193.75px;font-size:7.5px;color:#6b7780;letter-spacing:-0.233px;">Total Handle Time From Sep 1</div>
<div class="t" style="top:449px;left:290.00px;font-size:8.5px;color:#6b7780;letter-spacing:0.000px;transform:scaleX(1.15);font-family:'DejaVu Sans',sans-serif;">→</div>
<div class="t" style="top:448px;left:301.66px;font-size:7.5px;color:#6b7780;letter-spacing:-0.095px;">Sep 30</div>
<div class="t" style="top:482px;left:212.10px;font-size:7.5px;color:#6b7780;letter-spacing:-0.198px;">Average Total Handle Time Per Day</div>
<div class="t" style="top:515px;left:198.50px;font-size:7.5px;color:#6b7780;letter-spacing:-0.192px;">Average Handle Time Per Conversation</div>
<div class="t" style="top:290px;left:466.36px;font-size:24.5px;color:#2b2b2b;letter-spacing:0.421px;-webkit-text-stroke:0.3px #2b2b2b;">$10.2m</div>
<div class="t" style="top:324px;left:462.77px;font-size:11px;color:#8a9097;letter-spacing:0.192px;transform:scaleX(1.06);">Pipeline Influenced</div>
<div class="t" style="top:290px;left:804.04px;font-size:24.5px;color:#2b2b2b;letter-spacing:0.224px;transform:scaleX(1.06);-webkit-text-stroke:0.3px #2b2b2b;">$8.2m</div>
<div class="t" style="top:324px;left:777.57px;font-size:11px;color:#8a9097;letter-spacing:0.129px;transform:scaleX(1.06);">Revenue Closed / Won</div>
<div class="t" style="top:358px;left:371.90px;font-size:7.3px;color:#868e94;letter-spacing:-0.022px;transform:scaleX(0.95);">ACCOUNT NAME</div>
<div class="t" style="top:358px;left:509.60px;font-size:7.3px;color:#868e94;letter-spacing:-0.061px;transform:scaleX(0.95);">AMOUNT</div>
<div class="t" style="top:358px;left:588.50px;font-size:7.3px;color:#868e94;letter-spacing:-0.188px;transform:scaleX(0.92);">STAGE</div>
<div class="ln" style="left:371.6px;top:375.8px;width:285.8px"></div>
<div class="ln" style="left:371.6px;top:409.0px;width:285.8px"></div>
<div class="ln" style="left:371.6px;top:438.9px;width:285.8px"></div>
<div class="ln" style="left:371.6px;top:472.9px;width:285.8px"></div>
<div class="ln" style="left:371.6px;top:504.6px;width:285.8px"></div>
<div class="t" style="top:389px;left:372.04px;font-size:11px;color:#2c3e44;letter-spacing:-0.153px;transform:scaleX(1.06);-webkit-text-stroke:0.2px #2c3e44;">Visa</div>
<div class="t" style="top:389px;left:512.78px;font-size:11px;color:#2c3e44;letter-spacing:0.436px;transform:scaleX(1.06);-webkit-text-stroke:0.2px #2c3e44;">$85,000</div>
<div class="t" style="top:389px;left:588.28px;font-size:11px;color:#2c3e44;letter-spacing:0.210px;transform:scaleX(1.06);-webkit-text-stroke:0.2px #2c3e44;">Qualified</div>
<div class="t" style="top:420px;left:372.10px;font-size:11px;color:#2c3e44;letter-spacing:-0.220px;-webkit-text-stroke:0.2px #2c3e44;">AT&amp;T</div>
<div class="t" style="top:420px;left:512.78px;font-size:11px;color:#2c3e44;letter-spacing:0.562px;transform:scaleX(1.06);-webkit-text-stroke:0.2px #2c3e44;">$82,400</div>
<div class="t" style="top:420px;left:587.87px;font-size:11px;color:#2c3e44;letter-spacing:0.309px;transform:scaleX(1.06);-webkit-text-stroke:0.2px #2c3e44;">Prospect</div>
<div class="t" style="top:452px;left:371.52px;font-size:11px;color:#2c3e44;letter-spacing:0.221px;transform:scaleX(1.06);-webkit-text-stroke:0.2px #2c3e44;">Capital One</div>
<div class="t" style="top:452px;left:512.78px;font-size:11px;color:#2c3e44;letter-spacing:0.358px;transform:scaleX(1.06);-webkit-text-stroke:0.2px #2c3e44;">$75,550</div>
<div class="t" style="top:452px;left:587.87px;font-size:11px;color:#2c3e44;letter-spacing:0.273px;transform:scaleX(1.06);-webkit-text-stroke:0.2px #2c3e44;">Procurement</div>
<div class="t" style="top:484px;left:371.87px;font-size:11px;color:#2c3e44;letter-spacing:0.406px;transform:scaleX(1.06);-webkit-text-stroke:0.2px #2c3e44;">Twilio</div>
<div class="t" style="top:484px;left:512.78px;font-size:11px;color:#2c3e44;letter-spacing:0.405px;transform:scaleX(1.06);-webkit-text-stroke:0.2px #2c3e44;">$68,720</div>
<div class="t" style="top:484px;left:588.28px;font-size:11px;color:#2c3e44;letter-spacing:0.210px;transform:scaleX(1.06);-webkit-text-stroke:0.2px #2c3e44;">Qualified</div>
<div class="t" style="top:516px;left:371.57px;font-size:11px;color:#2c3e44;letter-spacing:0.273px;transform:scaleX(1.06);-webkit-text-stroke:0.2px #2c3e44;">Bank of America</div>
<div class="t" style="top:516px;left:512.78px;font-size:11px;color:#2c3e44;letter-spacing:0.452px;transform:scaleX(1.06);-webkit-text-stroke:0.2px #2c3e44;">$52,500</div>
<div class="t" style="top:516px;left:588.28px;font-size:11px;color:#2c3e44;letter-spacing:0.210px;transform:scaleX(1.06);-webkit-text-stroke:0.2px #2c3e44;">Qualified</div>
<div class="t" style="top:358px;left:701.40px;font-size:7.3px;color:#868e94;letter-spacing:-0.022px;transform:scaleX(0.95);">ACCOUNT NAME</div>
<div class="t" style="top:358px;left:842.00px;font-size:7.3px;color:#868e94;letter-spacing:-0.061px;transform:scaleX(0.95);">AMOUNT</div>
<div class="t" style="top:358px;left:917.70px;font-size:7.3px;color:#868e94;letter-spacing:-0.188px;transform:scaleX(0.92);">STAGE</div>
<div class="ln" style="left:701.1px;top:375.8px;width:285.8px"></div>
<div class="ln" style="left:701.1px;top:409.0px;width:285.8px"></div>
<div class="ln" style="left:701.1px;top:438.9px;width:285.8px"></div>
<div class="ln" style="left:701.1px;top:472.9px;width:285.8px"></div>
<div class="ln" style="left:701.1px;top:504.6px;width:285.8px"></div>
<div class="t" style="top:389px;left:700.55px;font-size:11px;color:#2c3e44;letter-spacing:0.465px;transform:scaleX(1.06);-webkit-text-stroke:0.2px #2c3e44;">IBM</div>
<div class="t" style="top:389px;left:841.88px;font-size:11px;color:#2c3e44;letter-spacing:0.145px;transform:scaleX(1.06);-webkit-text-stroke:0.2px #2c3e44;">$110,000</div>
<div class="t" style="top:389px;left:917.42px;font-size:11px;color:#2c3e44;letter-spacing:0.202px;transform:scaleX(1.06);-webkit-text-stroke:0.2px #2c3e44;">Closed Won</div>
<div class="t" style="top:420px;left:700.67px;font-size:11px;color:#2c3e44;letter-spacing:0.042px;transform:scaleX(1.06);-webkit-text-stroke:0.2px #2c3e44;">Figma</div>
<div class="t" style="top:420px;left:841.88px;font-size:11px;color:#2c3e44;letter-spacing:0.137px;transform:scaleX(1.06);-webkit-text-stroke:0.2px #2c3e44;">$97,550</div>
<div class="t" style="top:420px;left:917.42px;font-size:11px;color:#2c3e44;letter-spacing:0.202px;transform:scaleX(1.06);-webkit-text-stroke:0.2px #2c3e44;">Closed Won</div>
<div class="t" style="top:452px;left:700.67px;font-size:11px;color:#2c3e44;letter-spacing:0.441px;transform:scaleX(1.06);-webkit-text-stroke:0.2px #2c3e44;">Motorola</div>
<div class="t" style="top:452px;left:841.88px;font-size:11px;color:#2c3e44;letter-spacing:0.593px;transform:scaleX(1.06);-webkit-text-stroke:0.2px #2c3e44;">$92,400</div>
<div class="t" style="top:452px;left:917.42px;font-size:11px;color:#2c3e44;letter-spacing:0.202px;transform:scaleX(1.06);-webkit-text-stroke:0.2px #2c3e44;">Closed Won</div>
<div class="t" style="top:484px;left:701.37px;font-size:11px;color:#2c3e44;letter-spacing:0.253px;transform:scaleX(1.06);-webkit-text-stroke:0.2px #2c3e44;">Teradata</div>
<div class="t" style="top:484px;left:841.88px;font-size:11px;color:#2c3e44;letter-spacing:0.461px;transform:scaleX(1.06);-webkit-text-stroke:0.2px #2c3e44;">$82,325</div>
<div class="t" style="top:484px;left:917.42px;font-size:11px;color:#2c3e44;letter-spacing:0.202px;transform:scaleX(1.06);-webkit-text-stroke:0.2px #2c3e44;">Closed Won</div>
<div class="t" style="top:516px;left:701.00px;font-size:11px;color:#2c3e44;letter-spacing:-0.037px;transform:scaleX(1.06);-webkit-text-stroke:0.2px #2c3e44;">Asana</div>
<div class="t" style="top:516px;left:841.88px;font-size:11px;color:#2c3e44;letter-spacing:0.452px;transform:scaleX(1.06);-webkit-text-stroke:0.2px #2c3e44;">$65,820</div>
<div class="t" style="top:516px;left:917.42px;font-size:11px;color:#2c3e44;letter-spacing:0.202px;transform:scaleX(1.06);-webkit-text-stroke:0.2px #2c3e44;">Closed Won</div>
</div></body></html>
